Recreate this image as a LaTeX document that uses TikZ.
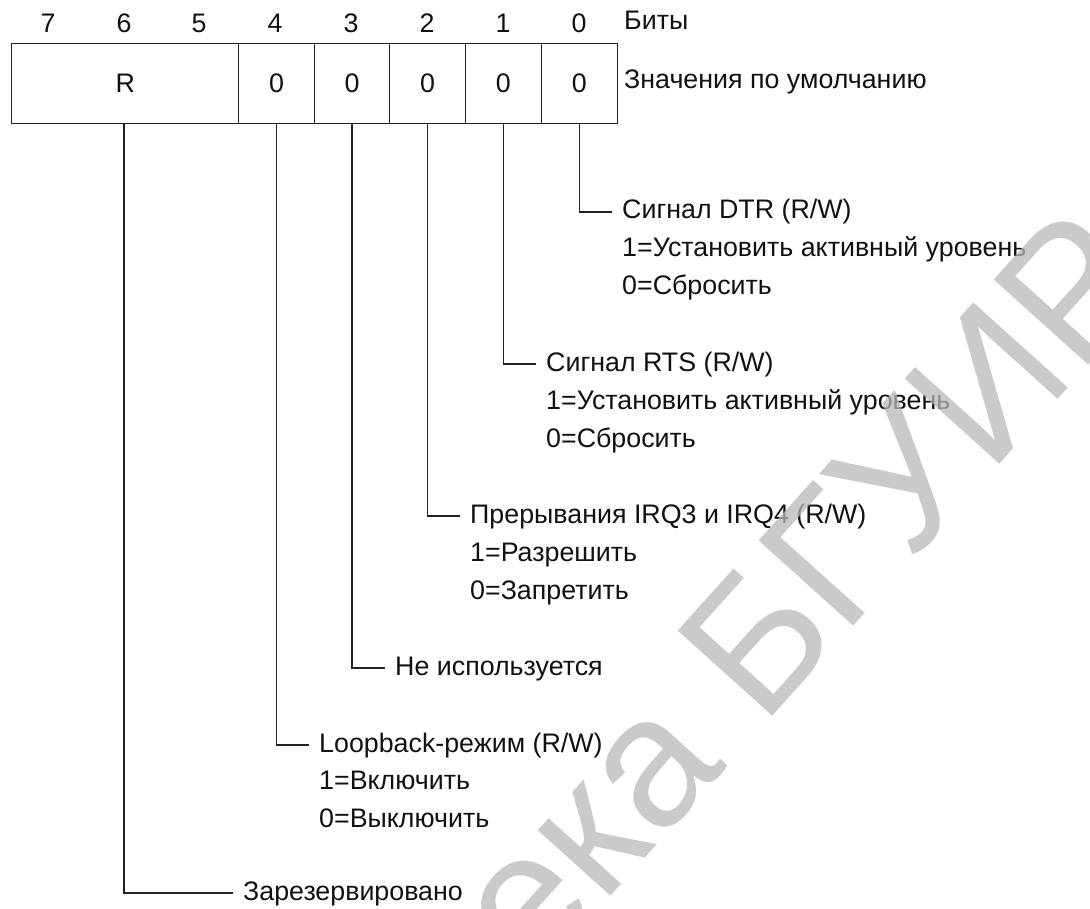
\documentclass[tikz,border=0pt]{standalone}
\usepackage{fontspec}
\setmainfont{Liberation Sans}
\definecolor{linecol}{HTML}{222222}
\definecolor{txtcol}{HTML}{111111}
\definecolor{wmcol}{HTML}{B8B8B8}
\tikzset{
  cellbox/.style={draw=linecol, line width=1.4pt, minimum height=80pt, inner sep=0pt, anchor=north west, text=txtcol},
  bitnum/.style={inner sep=0pt, text=txtcol},
  lbl/.style={anchor=west, inner xsep=10pt, inner ysep=0pt, text height=19pt, text depth=5pt, text=txtcol},
  conn/.style={draw=linecol, line width=1.4pt},
  wm/.style={text=wmcol, text opacity=0.75, inner sep=0pt, font=\fontsize{185}{185}\selectfont}
}
\begin{document}
\begin{tikzpicture}[x=1pt,y=-1pt,font=\fontsize{26.8}{32}\selectfont]
\useasboundingbox (0,0) rectangle (1090,909);
% bit numbers
\node[bitnum] (b7) at (48,23) {7};
\node[bitnum] (b6) at (124,23) {6};
\node[bitnum] (b5) at (199,23) {5};
\node[bitnum] (b4) at (275,23) {4};
\node[bitnum] (b3) at (351,23) {3};
\node[bitnum] (b2) at (427,23) {2};
\node[bitnum] (b1) at (503,23) {1};
\node[bitnum] (b0) at (579,23) {0};
\node[lbl] (bity) at (614,23) {Биты};
% cells
\node[cellbox, minimum width=227pt] (cR) at (11,43) {R};
\node[cellbox, minimum width=75.5pt] (c4) at (238,43) {0};
\node[cellbox, minimum width=75.5pt] (c3) at (313.5,43) {0};
\node[cellbox, minimum width=75.5pt] (c2) at (389,43) {0};
\node[cellbox, minimum width=76pt] (c1) at (464.5,43) {0};
\node[cellbox, minimum width=76pt] (c0) at (540.5,43) {0};
\node[lbl] (defv) at (614,82) {Значения по умолчанию};
% bit 0
\node[lbl] (t0) at (612,212) {Сигнал DTR (R/W)};
\node[lbl] (t0a) at (612,250) {1=Установить активный уровень};
\node[lbl] (t0b) at (612,288) {0=Сбросить};
% bit 1
\node[lbl] (t1) at (536,364) {Сигнал RTS (R/W)};
\node[lbl] (t1a) at (536,402) {1=Установить активный уровень};
\node[lbl] (t1b) at (536,440) {0=Сбросить};
% bit 2
\node[lbl] (t2) at (460,516) {Прерывания IRQ3 и IRQ4 (R/W)};
\node[lbl] (t2a) at (460,554) {1=Разрешить};
\node[lbl] (t2b) at (460,592) {0=Запретить};
% bit 3
\node[lbl] (t3) at (385,668) {Не используется};
% bit 4
\node[lbl] (t4) at (309,745) {Loopback-режим (R/W)};
\node[lbl] (t4a) at (309,782) {1=Включить};
\node[lbl] (t4b) at (309,820) {0=Выключить};
% reserved
\node[lbl] (tR) at (233,893) {Зарезервировано};
% connectors
\draw[conn] (cR.south -| b6) |- (tR.west);
\draw[conn] (c4.south) |- (t4.west);
\draw[conn] (c3.south) |- (t3.west);
\draw[conn] (c2.south) |- (t2.west);
\draw[conn] (c1.south) |- (t1.west);
\draw[conn] (c0.south) |- (t0.west);
% watermark
\node[wm, rotate=48, anchor=base east] (wmark) at (1161,285) {Библиотека БГУИР};
\end{tikzpicture}
\end{document}
